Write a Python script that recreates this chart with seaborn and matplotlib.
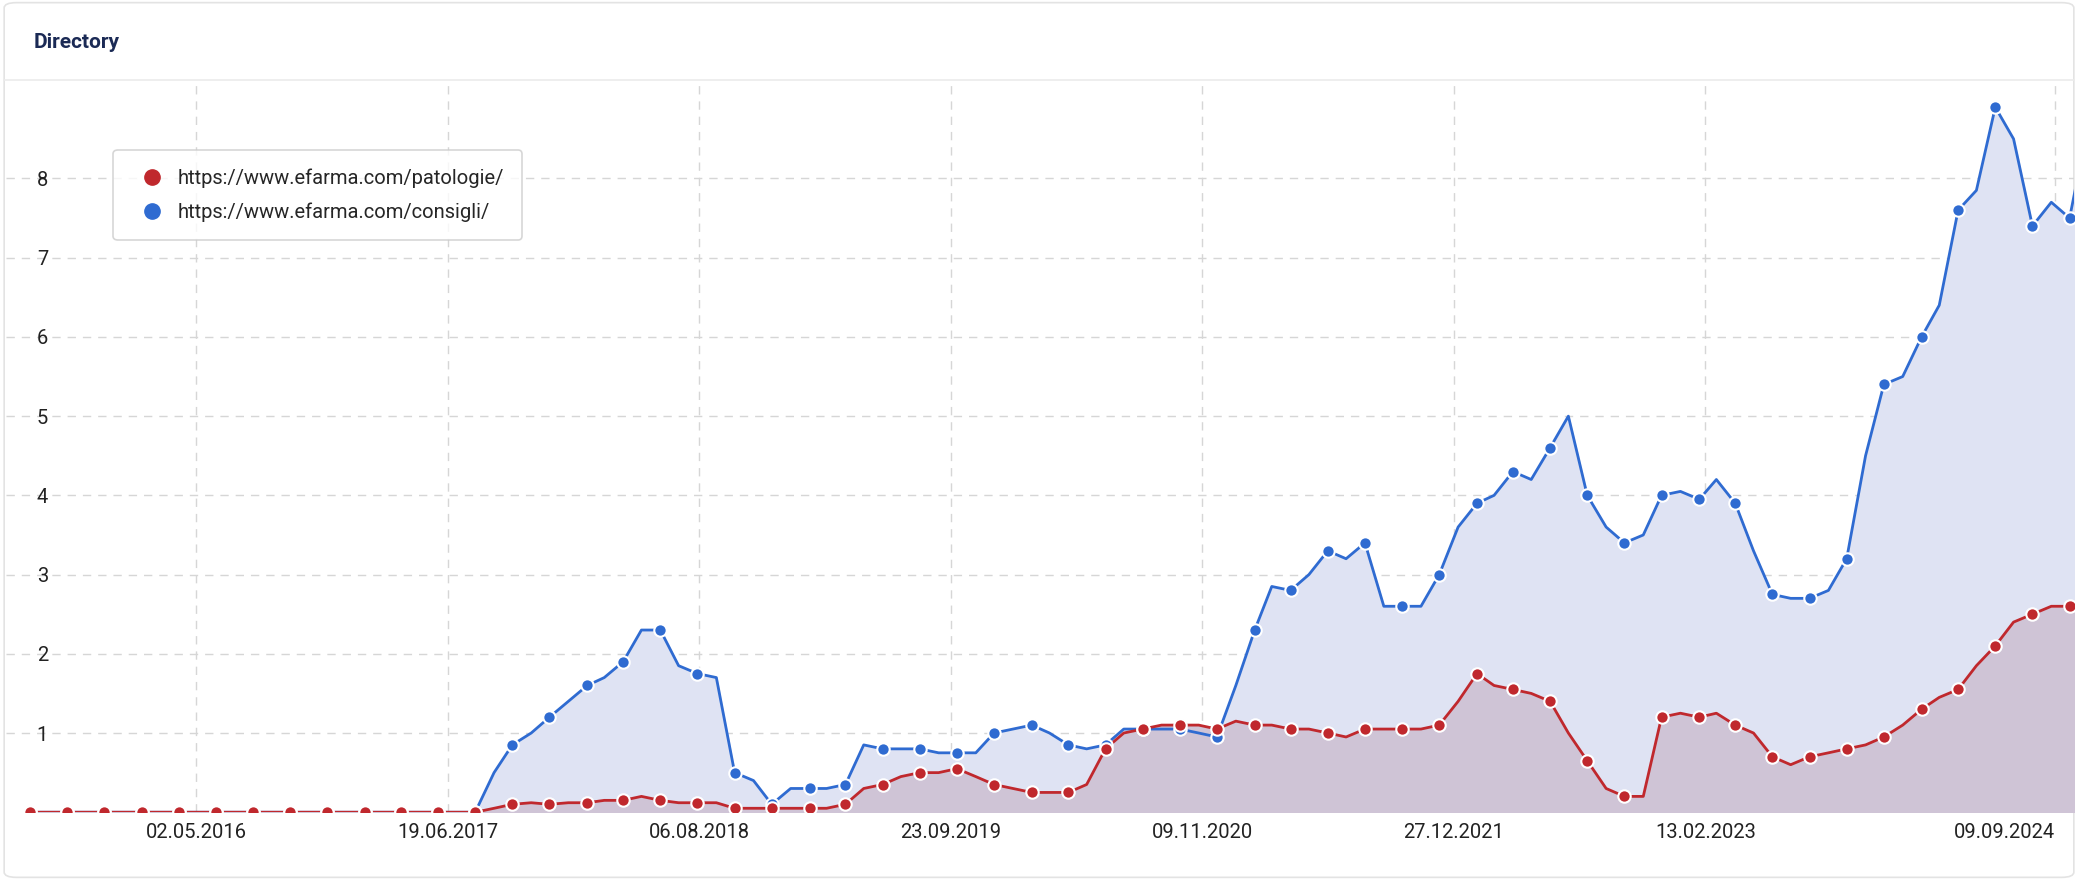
import numpy as np
import pandas as pd
import matplotlib
matplotlib.use("Agg")
import matplotlib.pyplot as plt
from matplotlib.patches import FancyBboxPatch
import seaborn as sns

# monthly values, Jul 2015 .. Oct 2024
dates = pd.date_range("2015-07-03", periods=112, freq="MS") + pd.Timedelta(days=2)

consigli = [0]*25 + [
    0.5, 0.85, 1.0, 1.2, 1.4, 1.6, 1.7, 1.9, 2.3, 2.3, 1.85, 1.75, 1.7, 0.5, 0.4,
    0.1, 0.3, 0.3, 0.3, 0.35, 0.85, 0.8, 0.8, 0.8, 0.75, 0.75, 0.75, 1.0, 1.05, 1.1,
    1.0, 0.85, 0.8, 0.85, 1.05, 1.05, 1.05, 1.05, 1.0, 0.95, 1.6, 2.3, 2.85, 2.8, 3.0,
    3.3, 3.2, 3.4, 2.6, 2.6, 2.6, 3.0, 3.6, 3.9, 4.0, 4.3, 4.2, 4.6, 5.0, 4.0,
    3.6, 3.4, 3.5, 4.0, 4.05, 3.95, 4.2, 3.9, 3.3, 2.75, 2.7, 2.7, 2.8, 3.2, 4.5,
    5.4, 5.5, 6.0, 6.4, 7.6, 7.85, 8.9, 8.5, 7.4, 7.7, 7.5, 8.7]

patologie = [0]*25 + [
    0.05, 0.1, 0.12, 0.1, 0.12, 0.12, 0.15, 0.15, 0.2, 0.15, 0.12, 0.12, 0.12, 0.05, 0.05,
    0.05, 0.05, 0.05, 0.05, 0.1, 0.3, 0.35, 0.45, 0.5, 0.5, 0.55, 0.45, 0.35, 0.3, 0.25,
    0.25, 0.25, 0.35, 0.8, 1.0, 1.05, 1.1, 1.1, 1.1, 1.05, 1.15, 1.1, 1.1, 1.05, 1.05,
    1.0, 0.95, 1.05, 1.05, 1.05, 1.05, 1.1, 1.4, 1.75, 1.6, 1.55, 1.5, 1.4, 1.0, 0.65,
    0.3, 0.2, 0.2, 1.2, 1.25, 1.2, 1.25, 1.1, 1.0, 0.7, 0.6, 0.7, 0.75, 0.8, 0.85,
    0.95, 1.1, 1.3, 1.45, 1.55, 1.85, 2.1, 2.4, 2.5, 2.6, 2.6, 2.75]

tick_dates = ["2016-05-02", "2017-06-19", "2018-08-06", "2019-09-23",
              "2020-11-09", "2021-12-27", "2023-02-13", "2024-09-09"]
tick_labels = ["02.05.2016", "19.06.2017", "06.08.2018", "23.09.2019",
               "09.11.2020", "27.12.2021", "13.02.2023", "09.09.2024"]

df = pd.DataFrame({"date": dates, "patologie": patologie, "consigli": consigli})

sns.set_style("white")
plt.rcParams["font.family"] = ["Roboto", "DejaVu Sans"]

blue, red = "#2f6bd1", "#c0282d"
fig = plt.figure(figsize=(20.78, 8.8), dpi=100)
box = FancyBboxPatch((0.002, 0.003), 0.996, 0.994, boxstyle="round,pad=0,rounding_size=0.006",
                     transform=fig.transFigure, fc="white", ec="#e3e3e3", lw=1.2, zorder=-10)
fig.patches.append(box)
fig.text(0.016, 0.952, "Directory", fontsize=15, fontweight="bold", color="#1b2a55", va="center")
fig.add_artist(plt.Line2D([0.002, 0.998], [0.909, 0.909], color="#ebebeb", lw=1.2, transform=fig.transFigure))

ax = fig.add_axes([0.003, 0.077, 0.995, 0.83])
ax.patch.set_alpha(0)
ax.fill_between(df["date"], df["consigli"], color="#dfe3f3", zorder=1)
ax.fill_between(df["date"], df["patologie"], color="#cfc4d6", zorder=2)
sns.lineplot(data=df, x="date", y="consigli", color=blue, lw=2, ax=ax, zorder=3)
sns.lineplot(data=df, x="date", y="patologie", color=red, lw=2, ax=ax, zorder=4)
sub = df.iloc[::2]
ax.scatter(sub["date"], sub["consigli"], s=80, color=blue, edgecolor="white", lw=1.5, zorder=5)
ax.scatter(sub["date"], sub["patologie"], s=80, color=red, edgecolor="white", lw=1.5, zorder=6)

ax.set_xlim(pd.Timestamp("2015-06-25"), pd.Timestamp("2024-10-10"))
ax.set_ylim(0, 9.22)
ax.set_xticks(pd.to_datetime(tick_dates))
ax.set_xticklabels(tick_labels, fontsize=14.5, color="#222222")
ax.get_xticklabels()[-1].set_ha("right")
ax.set_yticks(range(1, 9))
ax.set_yticklabels([str(i) for i in range(1, 9)], fontsize=14.5, color="#222222", ha="left")
ax.tick_params(axis="y", length=0, pad=-22)
ax.tick_params(axis="x", length=0, pad=8)
ax.grid(True, ls=(0, (6, 5)), color="#d6d6d6", lw=1)
ax.set_axisbelow(True)
for s in ax.spines.values():
    s.set_visible(False)
ax.set_xlabel("")
ax.set_ylabel("")

h1 = plt.Line2D([], [], marker="o", ls="", color=red, ms=11)
h2 = plt.Line2D([], [], marker="o", ls="", color=blue, ms=11)
leg = ax.legend([h1, h2], ["https://www.efarma.com/patologie/", "https://www.efarma.com/consigli/"],
                loc="upper left", bbox_to_anchor=(0.047, 0.92), fontsize=14.5, frameon=True,
                fancybox=True, edgecolor="#cccccc", handletextpad=0.3, borderpad=0.9, labelspacing=0.7)
leg.get_frame().set_linewidth(1.2)

fig.savefig("out.png", dpi=100)
